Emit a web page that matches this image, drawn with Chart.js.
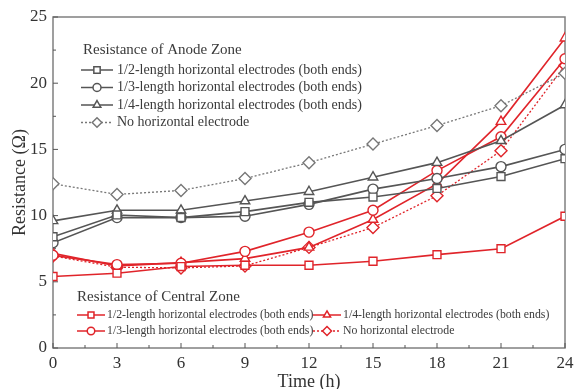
<!DOCTYPE html>
<html lang="en">
<head>
<meta charset="UTF-8">
<title>Resistance vs Time</title>
<style>
  html, body { margin: 0; padding: 0; background: #fff; }
  #wrap { width: 574px; height: 389px; }
</style>
<script src="https://cdn.jsdelivr.net/npm/chart.js"></script>
</head>
<body>
<div id="wrap"><canvas id="chart"></canvas></div>
<script>
const hours = [0, 3, 6, 9, 12, 15, 18, 21, 24];
const yTicks = [0, 5, 10, 15, 20, 25];

// Resistance of anode zone
const anodeHalf    = [8.4, 10.05, 9.85, 10.3, 11.0, 11.4, 12.05, 12.95, 14.3];
const anodeThird   = [7.95, 9.85, 9.85, 9.95, 10.85, 12.0, 12.8, 13.7, 15.0];
const anodeQuarter = [9.6, 10.4, 10.4, 11.1, 11.8, 12.9, 14.0, 15.65, 18.35];
const anodeNone    = [12.4, 11.6, 11.9, 12.8, 14.0, 15.4, 16.8, 18.3, 20.75];

// Resistance of central zone
const centralHalf    = [5.4, 5.65, 6.15, 6.25, 6.25, 6.55, 7.05, 7.5, 9.95];
const centralThird   = [7.0, 6.3, 6.4, 7.3, 8.75, 10.4, 13.4, 15.95, 21.85];
const centralQuarter = [7.15, 6.2, 6.45, 6.75, 7.6, 9.7, 12.4, 17.1, 23.4];
const centralNone    = [6.95, 6.1, 6.05, 6.2, 7.6, 9.1, 11.5, 14.9, 21.35];

const FONT = "'Liberation Serif', 'Times New Roman', serif";
const GRAY = '#555555';
const GRAY_DOT = '#777777';
const RED = '#e0242a';

function series(label, values, color, style, radius, dotted, zone) {
  return {
    label: label,
    zone: zone,
    data: values.map((v, i) => ({ x: hours[i], y: v })),
    borderColor: color,
    backgroundColor: '#fff',
    pointBackgroundColor: '#fff',
    pointBorderColor: color,
    pointStyle: style,
    pointRadius: radius,
    pointBorderWidth: 1.4,
    borderWidth: dotted ? 1.3 : 1.6,
    borderDash: dotted ? [2, 2] : [],
    tension: 0
  };
}

const datasets = [
  series('1/2-length horizontal electrodes (both ends)', anodeHalf, GRAY, 'rect', 5.6, false, 'anode'),
  series('1/3-length horizontal electrodes (both ends)', anodeThird, GRAY, 'circle', 5, false, 'anode'),
  series('1/4-length horizontal electrodes (both ends)', anodeQuarter, GRAY, 'triangle', 5.5, false, 'anode'),
  series('No horizontal electrode', anodeNone, GRAY_DOT, 'rectRot', 6, true, 'anode'),
  series('1/2-length horizontal electrodes (both ends)', centralHalf, RED, 'rect', 5.6, false, 'central'),
  series('1/3-length horizontal electrodes (both ends)', centralThird, RED, 'circle', 5, false, 'central'),
  series('1/4-length horizontal electrodes (both ends)', centralQuarter, RED, 'triangle', 5.5, false, 'central'),
  series('No horizontal electrode', centralNone, RED, 'rectRot', 6, true, 'central')
];

function legendSample(ctx, ds, x, y, len, scale) {
  ctx.save();
  ctx.strokeStyle = ds.borderColor;
  ctx.lineWidth = 1.5;
  ctx.setLineDash(ds.borderDash);
  ctx.beginPath();
  ctx.moveTo(x, y);
  ctx.lineTo(x + len, y);
  ctx.stroke();
  ctx.setLineDash([]);
  ctx.fillStyle = '#fff';
  Chart.helpers.drawPoint(ctx, {
    pointStyle: ds.pointStyle,
    radius: ds.pointRadius * scale,
    borderWidth: 1.4,
    rotation: 0
  }, x + len / 2, y);
  ctx.restore();
}

// frame, inward ticks and the two grouped legends
const decor = {
  id: 'decor',
  beforeDatasetsDraw(chart) {
    const { ctx, chartArea: a, scales: { x, y } } = chart;
    ctx.save();
    ctx.strokeStyle = '#808080';
    ctx.lineWidth = 1.5;
    ctx.strokeRect(a.left, a.top, a.right - a.left, a.bottom - a.top);
    ctx.lineWidth = 1;
    ctx.strokeStyle = '#555';
    ctx.beginPath();
    hours.forEach(h => {
      const px = x.getPixelForValue(h);
      ctx.moveTo(px, a.bottom); ctx.lineTo(px, a.bottom - 5);
      if (h < 24) {
        const mx = x.getPixelForValue(h + 1.5);
        ctx.moveTo(mx, a.bottom); ctx.lineTo(mx, a.bottom - 3);
      }
    });
    yTicks.forEach(v => {
      const py = y.getPixelForValue(v);
      ctx.moveTo(a.left, py); ctx.lineTo(a.left + 5, py);
      if (v < 25) {
        const my = y.getPixelForValue(v + 2.5);
        ctx.moveTo(a.left, my); ctx.lineTo(a.left + 3, my);
      }
    });
    ctx.stroke();
    ctx.restore();
  },
  afterDatasetsDraw(chart) {
    const { ctx, chartArea: a } = chart;
    const sets = chart.data.datasets;
    ctx.save();
    ctx.textBaseline = 'middle';
    ctx.textAlign = 'left';

    // anode zone legend
    ctx.fillStyle = '#3a3a3a';
    ctx.font = '15px ' + FONT;
    ctx.fillText('Resistance of Anode Zone', a.left + 30, a.top + 33);
    ctx.font = '14px ' + FONT;
    sets.filter(d => d.zone === 'anode').forEach((ds, i) => {
      const yy = a.top + 53 + i * 17.5;
      legendSample(ctx, ds, a.left + 28, yy, 32, 0.8);
      ctx.fillStyle = '#3a3a3a';
      ctx.fillText(ds.label, a.left + 64, yy);
    });

    // central zone legend, two columns
    ctx.font = '15px ' + FONT;
    ctx.fillText('Resistance of Central Zone', a.left + 24, a.bottom - 51);
    ctx.font = '11.8px ' + FONT;
    sets.filter(d => d.zone === 'central').forEach((ds, i) => {
      const col = i < 2 ? 0 : 1;
      const row = i % 2;
      const xx = a.left + 24 + col * 236;
      const yy = a.bottom - 33 + row * 16;
      legendSample(ctx, ds, xx, yy, 28, 0.75);
      ctx.fillStyle = '#3a3a3a';
      ctx.fillText(ds.label, xx + 30, yy);
    });
    ctx.restore();
  }
};

new Chart(document.getElementById('chart'), {
  type: 'line',
  data: { datasets: datasets },
  options: {
    responsive: true,
    maintainAspectRatio: false,
    animation: false,
    layout: { padding: { top: 17, right: 9, left: 0, bottom: 0 } },
    plugins: {
      legend: { display: false },
      tooltip: { enabled: false }
    },
    scales: {
      x: {
        type: 'linear',
        min: 0,
        max: 24,
        grid: { display: false, drawTicks: false },
        border: { display: false },
        ticks: {
          stepSize: 3,
          padding: 5,
          color: '#333',
          font: { family: FONT, size: 17 }
        },
        title: {
          display: true,
          text: 'Time (h)',
          color: '#333',
          padding: { top: 0, bottom: 0 },
          font: { family: FONT, size: 18, lineHeight: 0.8 }
        },
        afterFit(scale) {
          scale.height = 41;
          scale.paddingLeft = 0;
          scale.paddingRight = 0;
        }
      },
      y: {
        min: 0,
        max: 25,
        grid: { display: false, drawTicks: false },
        border: { display: false },
        ticks: {
          stepSize: 5,
          padding: 6,
          color: '#333',
          font: { family: FONT, size: 17 }
        },
        title: {
          display: true,
          text: 'Resistance (Ω)',
          color: '#333',
          padding: { top: 9, bottom: 0 },
          font: { family: FONT, size: 18 }
        },
        afterFit(scale) {
          scale.width = 53;
          scale.paddingTop = 0;
          scale.paddingBottom = 0;
        }
      }
    }
  },
  plugins: [decor]
});
</script>
</body>
</html>
